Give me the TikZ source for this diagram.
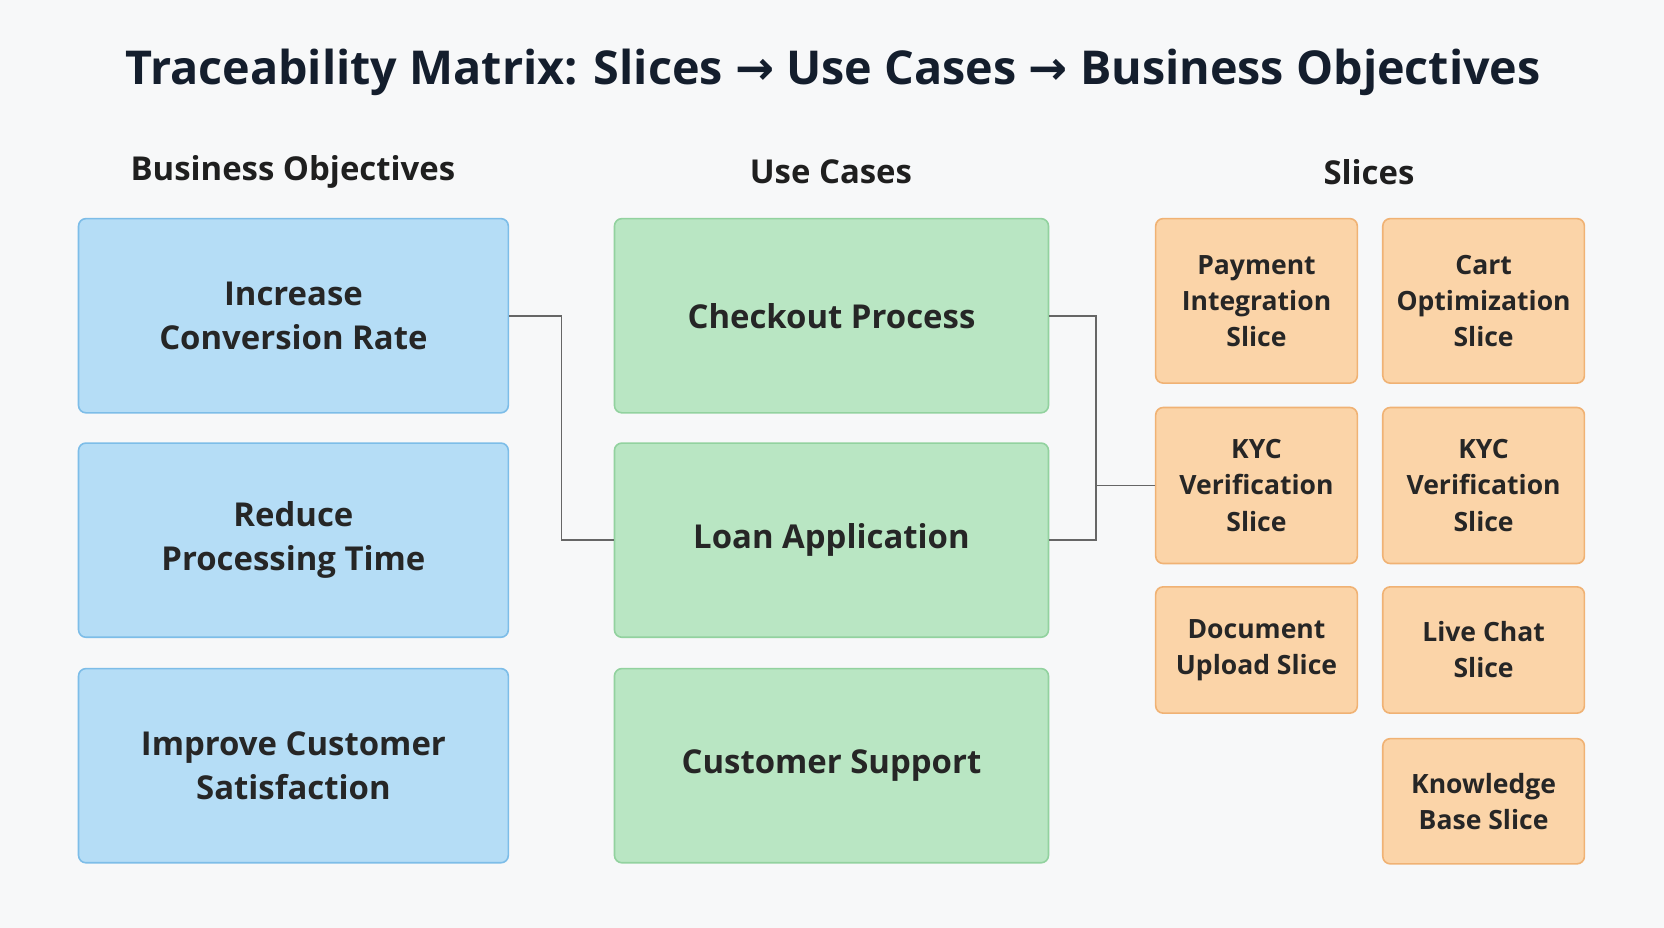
\documentclass[tikz,border=0pt]{standalone}
\usepackage{fontspec}
\setmainfont{Open Sans}
\begin{document}
\begin{tikzpicture}[x=1pt,y=-1pt,
 box/.style={draw,line width=1.5pt,rounded corners=7pt,align=center,font=\bfseries\fontsize{31}{42}\selectfont,text=black!85},
 obj/.style={box,fill=blueF,draw=blueD,minimum width=405pt,minimum height=183pt},
 uc/.style={box,fill=greenF,draw=greenD,minimum width=409pt,minimum height=183pt},
 sl/.style={box,fill=orF,draw=orD,minimum width=190pt,font=\bfseries\fontsize{25}{34}\selectfont},
 hdr/.style={font=\bfseries\fontsize{31}{36}\selectfont,text=black!88},
 link/.style={draw=black!60,line width=1.5pt}]
\definecolor{blueF}{HTML}{B5DDF6}\definecolor{blueD}{HTML}{7DBDE8}
\definecolor{greenF}{HTML}{B9E6C3}\definecolor{greenD}{HTML}{92D29F}
\definecolor{orF}{HTML}{FBD4A8}\definecolor{orD}{HTML}{F0B274}
\definecolor{bg}{HTML}{F7F8F9}\definecolor{ttl}{HTML}{141E2D}
\fill[bg] (0,0) rectangle (1568,874);
\useasboundingbox (0,0) rectangle (1568,874);
\node[font=\bfseries\fontsize{44}{50}\selectfont,text=ttl] (title) at (785,68) {Traceability Matrix: Slices {\fontspec{DejaVu Sans}\bfseries→} Use Cases {\fontspec{DejaVu Sans}\bfseries→} Business Objectives};
\node[hdr] (h1) at (276,162) {Business Objectives};
\node[hdr] (h2) at (783,162) {Use Cases};
\node[hdr] (h3) at (1290,162) {Slices};
\node[obj] (o1) at (276.5,297.5) {Increase\\Conversion Rate};
\node[obj] (o2) at (276.5,509) {Reduce\\Processing Time};
\node[obj] (o3) at (276.5,721.5) {Improve Customer\\Satisfaction};
\node[uc] (u1) at (783.5,297.5) {Checkout Process};
\node[uc] (u2) at (783.5,509) {Loan Application};
\node[uc] (u3) at (783.5,721.5) {Customer Support};
\node[sl,minimum height=155pt] (s1) at (1184,283.5) {Payment\\Integration\\Slice};
\node[sl,minimum height=155pt] (s2) at (1398,283.5) {Cart\\Optimization\\Slice};
\node[sl,minimum height=147pt] (s3) at (1184,457.5) {KYC\\Verification\\Slice};
\node[sl,minimum height=147pt] (s4) at (1398,457.5) {KYC\\Verification\\Slice};
\node[sl,minimum height=119pt] (s5) at (1184,612.5) {Document\\Upload Slice};
\node[sl,minimum height=119pt] (s6) at (1398,612.5) {Live Chat\\Slice};
\node[sl,minimum height=118pt] (s7) at (1398,755) {Knowledge\\Base Slice};
\coordinate (j1) at (529,297.5);
\coordinate (j2) at (1033,457.5);
\draw[link] (o1.east) -- (j1) |- (u2.west);
\draw[link] (u1.east) -| (j2) |- (u2.east);
\draw[link] (j2) -- (s3.west);
\end{tikzpicture}
\end{document}
